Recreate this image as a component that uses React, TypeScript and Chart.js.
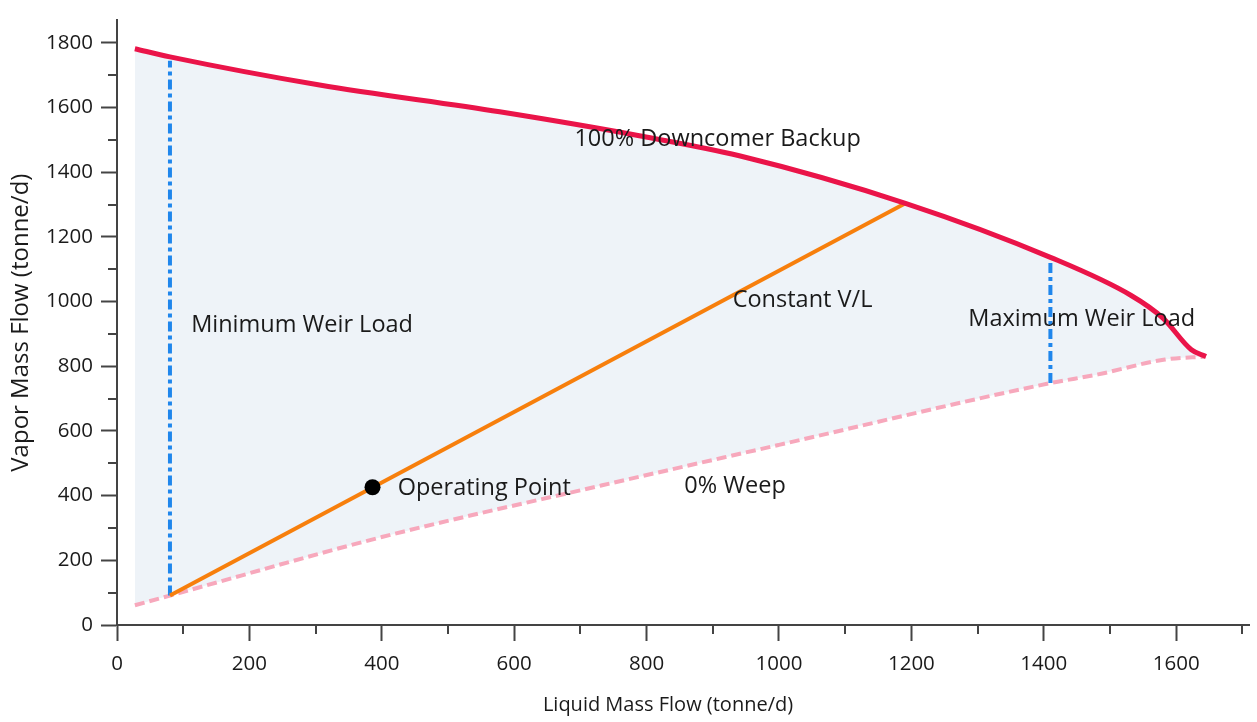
import React, { useEffect, useRef } from 'react';
import { Chart, registerables } from 'chart.js';

Chart.register(...registerables);

// 100% Downcomer Backup curve
const downcomerX = [27, 80, 306, 578, 789, 940, 1191, 1410, 1532, 1580, 1623, 1645];
const downcomerY = [1782, 1757, 1670, 1587, 1513, 1451, 1304, 1137, 1019, 949, 851, 830];

// 0% Weep curve
const weepX = [27, 80, 400, 733, 1000, 1410, 1482, 1583, 1645];
const weepY = [61, 91, 272, 432, 557, 748, 775, 821, 830];

// Constant V/L line
const vlX = [80, 1191];
const vlY = [91, 1304];

// Minimum / Maximum weir load
const minWeirX = [80, 80];
const minWeirY = [91, 1745];
const maxWeirX = [1410, 1410];
const maxWeirY = [748, 1125];

// Operating point
const opX = [386];
const opY = [426];

// Annotation labels (data coordinates, left-anchored)
const labelTexts = ['100% Downcomer Backup', 'Constant V/L', 'Minimum Weir Load', 'Maximum Weir Load', 'Operating Point', '0% Weep'];
const labelX = [691, 930, 112, 1286, 424, 857];
const labelY = [1502, 1003, 927, 945, 423, 429];

const xMin = 0;
const xMax = 1710;
const yMin = 0;
const yMax = 1870;
const majorStep = 200;

const xTitle = 'Liquid Mass Flow (tonne/d)';
const yTitle = 'Vapor Mass Flow (tonne/d)';

const FONT = "'Open Sans', 'Noto Sans', sans-serif";
const TEXT = '#1a1a1a';
const AXIS = '#444444';

const zip = (xs: number[], ys: number[]) => xs.map((x, i) => ({ x, y: ys[i] }));

const minorTicks = {
  id: 'minorTicks',
  afterDraw(chart: any) {
    const { ctx, scales } = chart;
    const xs = scales.x;
    const ys = scales.y;
    ctx.save();
    ctx.strokeStyle = AXIS;
    ctx.lineWidth = 2;
    for (let v = majorStep / 2; v <= xMax; v += majorStep) {
      const px = Math.round(xs.getPixelForValue(v));
      ctx.beginPath();
      ctx.moveTo(px, ys.bottom);
      ctx.lineTo(px, ys.bottom + 9);
      ctx.stroke();
    }
    for (let v = majorStep / 2; v <= yMax; v += majorStep) {
      const py = Math.round(ys.getPixelForValue(v));
      ctx.beginPath();
      ctx.moveTo(xs.left, py);
      ctx.lineTo(xs.left - 9, py);
      ctx.stroke();
    }
    // x-axis title
    ctx.font = `20px ${FONT}`;
    ctx.fillStyle = TEXT;
    ctx.textAlign = 'center';
    ctx.textBaseline = 'middle';
    const ca = chart.chartArea;
    ctx.fillText(xTitle, (ca.left + ca.right) / 2 - 15, chart.height - 17);
    ctx.restore();
  },
};

const textLabels = {
  id: 'textLabels',
  afterDatasetsDraw(chart: any) {
    const { ctx, scales } = chart;
    ctx.save();
    ctx.font = `23.5px ${FONT}`;
    ctx.fillStyle = TEXT;
    ctx.textAlign = 'left';
    ctx.textBaseline = 'middle';
    labelTexts.forEach((t, i) => {
      ctx.fillText(t, scales.x.getPixelForValue(labelX[i]), scales.y.getPixelForValue(labelY[i]));
    });
    ctx.restore();
  },
};

export default function App() {
  const ref = useRef<HTMLCanvasElement | null>(null);

  useEffect(() => {
    if (!ref.current) return;
    const chart = new Chart(ref.current, {
      type: 'scatter',
      data: {
        datasets: [
          {
            label: 'Operating Point',
            data: zip(opX, opY),
            pointRadius: 8,
            pointBackgroundColor: '#000000',
            pointBorderWidth: 0,
            showLine: false,
          },
          {
            label: '100% Downcomer Backup',
            data: zip(downcomerX, downcomerY),
            showLine: true,
            borderColor: '#EA1449',
            borderWidth: 5,
            pointRadius: 0,
            cubicInterpolationMode: 'monotone',
            fill: { target: 5, above: '#EEF3F8', below: '#EEF3F8' },
          },
          {
            label: 'Constant V/L',
            data: zip(vlX, vlY),
            showLine: true,
            borderColor: '#F77F0C',
            borderWidth: 4,
            pointRadius: 0,
          },
          {
            label: 'Minimum Weir Load',
            data: zip(minWeirX, minWeirY),
            showLine: true,
            borderColor: '#1F86EC',
            borderWidth: 4,
            borderDash: [10, 4, 4, 4],
            pointRadius: 0,
          },
          {
            label: 'Maximum Weir Load',
            data: zip(maxWeirX, maxWeirY),
            showLine: true,
            borderColor: '#1F86EC',
            borderWidth: 4,
            borderDash: [10, 4, 4, 4],
            pointRadius: 0,
          },
          {
            label: '0% Weep',
            data: zip(weepX, weepY),
            showLine: true,
            borderColor: '#F7A8BC',
            borderWidth: 4,
            borderDash: [10, 5],
            pointRadius: 0,
            cubicInterpolationMode: 'monotone',
          },
        ],
      },
      options: {
        animation: false,
        responsive: true,
        maintainAspectRatio: false,
        layout: { padding: { top: 10, right: 7, left: 0, bottom: 0 } },
        plugins: {
          legend: { display: false },
          tooltip: { enabled: false },
          filler: { drawTime: 'beforeDatasetsDraw' },
        },
        scales: {
          x: {
            type: 'linear',
            min: xMin,
            max: xMax,
            afterFit: (s: any) => { s.height = 97; },
            border: { display: true, color: AXIS, width: 2 },
            grid: { drawOnChartArea: false, drawTicks: true, tickLength: 16, tickColor: AXIS, tickWidth: 2 },
            ticks: {
              stepSize: majorStep, includeBounds: false, autoSkip: false, maxRotation: 0, padding: 11,
              color: TEXT, font: { family: FONT, size: 20.5 },
              callback: (v: any) => String(v),
            },
            title: { display: false },
          },
          y: {
            type: 'linear',
            min: yMin,
            max: yMax,
            afterFit: (s: any) => { s.width = 117; },
            border: { display: true, color: AXIS, width: 2 },
            grid: { drawOnChartArea: false, drawTicks: true, tickLength: 16, tickColor: AXIS, tickWidth: 2 },
            ticks: {
              stepSize: majorStep, includeBounds: false, autoSkip: false, padding: 8,
              color: TEXT, font: { family: FONT, size: 20.5 },
              callback: (v: any) => String(v),
            },
            title: { display: true, text: yTitle, color: TEXT, font: { family: FONT, size: 24 }, padding: { top: 7, bottom: 0 } },
          },
        },
      },
      plugins: [minorTicks, textLabels],
    });
    return () => chart.destroy();
  }, []);

  return (
    <div style={{ position: 'fixed', left: 0, top: 0, width: 1257, height: 722, background: '#ffffff' }}>
      <canvas ref={ref} />
    </div>
  );
}
